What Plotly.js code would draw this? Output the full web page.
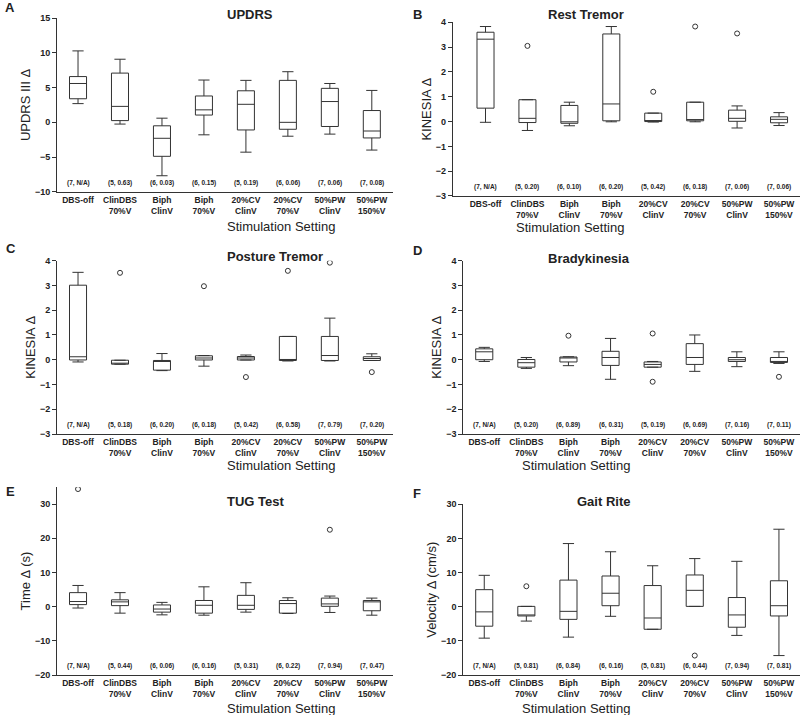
<!DOCTYPE html>
<html>
<head>
<meta charset="utf-8">
<script src="https://cdn.plot.ly/plotly-3.0.1.min.js"></script>
<style>
  body { margin: 0; background: #fff; }
  #chart { width: 800px; height: 715px; }
</style>
</head>
<body>
<div id="chart"></div>
<script>
const categories = ["DBS-off", "ClinDBS 70%V", "Biph ClinV", "Biph 70%V",
    "20%CV ClinV", "20%CV 70%V", "50%PW ClinV", "50%PW 150%V"];
const tickLabels = ["DBS-off", "ClinDBS<br>70%V", "Biph<br>ClinV", "Biph<br>70%V",
    "20%CV<br>ClinV", "20%CV<br>70%V", "50%PW<br>ClinV", "50%PW<br>150%V"];

// each row: lower whisker, q1, median, q3, upper whisker
const updrs = [
    [2.7, 3.4, 5.6, 6.6, 10.3],
    [-0.25, 0.25, 2.3, 7.1, 9.1],
    [-7.7, -4.9, -2.3, -0.5, 0.6],
    [-1.8, 1.05, 1.8, 3.8, 6.1],
    [-4.3, -1.1, 2.6, 4.55, 6.05],
    [-2.0, -1.0, 0, 6.05, 7.3],
    [-1.7, -0.6, 3.0, 4.9, 5.6],
    [-4.0, -2.25, -1.25, 1.7, 4.6]
];
const updrsOut = [];
const updrsNotes = ["(7, N/A)", "(5, 0.63)", "(6, 0.03)", "(6, 0.15)", "(5, 0.19)", "(6, 0.06)", "(7, 0.06)", "(7, 0.08)"];

const rest = [
    [-0.03, 0.54, 3.32, 3.6, 3.83],
    [-0.36, -0.04, 0.13, 0.88, 0.88],
    [-0.17, -0.07, -0.01, 0.65, 0.78],
    [-0.01, 0.03, 0.71, 3.53, 3.83],
    [-0.02, 0, 0.03, 0.34, 0.34],
    [-0.01, 0.03, 0.08, 0.78, 0.78],
    [-0.26, 0.01, 0.13, 0.46, 0.63],
    [-0.16, -0.05, 0.09, 0.19, 0.36]
];
const restOut = [["ClinDBS 70%V", 3.05], ["20%CV ClinV", 1.2], ["20%CV 70%V", 3.83], ["50%PW ClinV", 3.55]];
const restNotes = ["(7, N/A)", "(5, 0.20)", "(6, 0.10)", "(6, 0.20)", "(5, 0.42)", "(6, 0.18)", "(7, 0.06)", "(7, 0.06)"];

const posture = [
    [-0.09, -0.01, 0.12, 3.01, 3.53],
    [-0.18, -0.18, -0.17, -0.02, -0.02],
    [-0.44, -0.42, -0.07, -0.03, 0.25],
    [-0.26, -0.01, 0.07, 0.16, 0.17],
    [-0.01, -0.01, 0.07, 0.13, 0.19],
    [-0.05, -0.03, -0.03, 0.94, 0.94],
    [-0.05, -0.03, 0.17, 0.94, 1.68],
    [-0.03, -0.03, 0.05, 0.12, 0.24]
];
const postureOut = [["ClinDBS 70%V", 3.51], ["Biph 70%V", 2.97], ["20%CV ClinV", -0.7],
    ["20%CV 70%V", 3.59], ["50%PW ClinV", 3.92], ["50%PW 150%V", -0.5]];
const postureNotes = ["(7, N/A)", "(5, 0.18)", "(6, 0.20)", "(6, 0.18)", "(5, 0.42)", "(6, 0.58)", "(7, 0.79)", "(7, 0.20)"];

const brady = [
    [-0.07, 0, 0.32, 0.44, 0.5],
    [-0.35, -0.3, -0.12, 0.01, 0.09],
    [-0.24, -0.09, 0.1, 0.11, 0.12],
    [-0.79, -0.23, 0.09, 0.34, 0.86],
    [-0.3, -0.3, -0.19, -0.09, -0.07],
    [-0.47, -0.19, 0.09, 0.65, 1.0],
    [-0.28, -0.07, 0, 0.09, 0.32],
    [-0.15, -0.11, -0.09, 0.09, 0.32]
];
const bradyOut = [["Biph ClinV", 0.97], ["20%CV ClinV", 1.06], ["20%CV ClinV", -0.89], ["50%PW 150%V", -0.69]];
const bradyNotes = ["(7, N/A)", "(5, 0.20)", "(6, 0.89)", "(6, 0.31)", "(5, 0.19)", "(6, 0.69)", "(7, 0.16)", "(7, 0.11)"];

const tug = [
    [-0.4, 0.6, 1.5, 4.1, 6.2],
    [-1.9, 0.3, 1.4, 2.0, 4.1],
    [-2.4, -1.6, -0.7, 0.5, 1.25],
    [-2.5, -1.9, 0.4, 1.8, 5.8],
    [-1.6, -0.8, 0.4, 3.3, 7.0],
    [-2.0, -1.9, 0.9, 1.8, 2.6],
    [-1.7, 0.1, 0.8, 2.5, 3.1],
    [-2.5, -1.2, 1.4, 1.8, 2.5]
];
const tugOut = [["DBS-off", 34.4], ["50%PW ClinV", 22.5]];
const tugNotes = ["(7, N/A)", "(5, 0.44)", "(6, 0.06)", "(6, 0.16)", "(5, 0.31)", "(6, 0.22)", "(7, 0.94)", "(7, 0.47)"];

const gait = [
    [-9.2, -5.7, -1.5, 5.0, 9.2],
    [-4.2, -2.7, -2.7, 0.1, 0.1],
    [-8.9, -3.7, -1.35, 7.8, 18.5],
    [-2.8, 0.3, 3.95, 9.0, 16.1],
    [-6.6, -6.6, -3.3, 6.2, 12.0],
    [0.1, 0.1, 4.8, 9.3, 14.1],
    [-8.4, -6.0, -2.4, 2.7, 13.3],
    [-14.3, -2.7, 0.3, 7.6, 22.7]
];
const gaitOut = [["ClinDBS 70%V", 6.0], ["20%CV 70%V", -14.3]];
const gaitNotes = ["(7, N/A)", "(5, 0.81)", "(6, 0.84)", "(6, 0.16)", "(5, 0.81)", "(6, 0.44)", "(7, 0.94)", "(7, 0.81)"];

const FONT = "Arial, 'Liberation Sans', sans-serif";
const INK = "#222";
const LINE = "#333";

const panels = [
    {letter: "A", title: "UPDRS", ytitle: "UPDRS III Δ", stats: updrs, out: updrsOut, notes: updrsNotes,
     xdom: [0.0713, 0.491], ydom: [0.7319, 0.9744], xrange: [-0.5, 7.5], yrange: [-10, 15], ticks: [-10, -5, 0, 5, 10, 15],
     letterPos: [0.004, 0.990], titleY: 0.980, xtitleY: 0.6839},
    {letter: "B", title: "Rest Tremor", ytitle: "KINESIA Δ", stats: rest, out: restOut, notes: restNotes,
     xdom: [0.566, 1.0], ydom: [0.7259, 0.9688], xrange: [-0.78, 7.5], yrange: [-3, 4], ticks: [-3, -2, -1, 0, 1, 2, 3, 4],
     letterPos: [0.514, 0.980], titleY: 0.980, xtitleY: 0.6825},
    {letter: "C", title: "Posture Tremor", ytitle: "KINESIA Δ", stats: posture, out: postureOut, notes: postureNotes,
     xdom: [0.0713, 0.491], ydom: [0.393, 0.6354], xrange: [-0.5, 7.5], yrange: [-3, 4], ticks: [-3, -2, -1, 0, 1, 2, 3, 4],
     letterPos: [0.005, 0.653], titleY: 0.6406, xtitleY: 0.3483},
    {letter: "D", title: "Bradykinesia", ytitle: "KINESIA Δ", stats: brady, out: bradyOut, notes: bradyNotes,
     xdom: [0.579, 1.0], ydom: [0.393, 0.6354], xrange: [-0.5, 7.5], yrange: [-3, 4], ticks: [-3, -2, -1, 0, 1, 2, 3, 4],
     letterPos: [0.514, 0.650], titleY: 0.639, xtitleY: 0.3483},
    {letter: "E", title: "TUG Test", ytitle: "Time Δ (s)", stats: tug, out: tugOut, notes: tugNotes,
     xdom: [0.0713, 0.491], ydom: [0.0559, 0.3189], xrange: [-0.5, 7.5], yrange: [-20, 35], ticks: [-20, -10, 0, 10, 20, 30],
     letterPos: [0.005, 0.312], titleY: 0.298, xtitleY: 0.0091},
    {letter: "F", title: "Gait Rite", ytitle: "Velocity Δ (cm/s)", stats: gait, out: gaitOut, notes: gaitNotes,
     xdom: [0.579, 1.0], ydom: [0.0559, 0.2947], xrange: [-0.5, 7.5], yrange: [-20, 30], ticks: [-20, -10, 0, 10, 20, 30],
     letterPos: [0.514, 0.310], titleY: 0.298, xtitleY: 0.0091}
];

const traces = [];
const annotations = [];
const layout = {
    width: 800,
    height: 715,
    margin: {l: 0, r: 0, t: 0, b: 0},
    paper_bgcolor: "#fff",
    plot_bgcolor: "#fff",
    showlegend: false,
    boxgap: 0.42,
    font: {family: FONT, color: INK},
    annotations: annotations
};

panels.forEach((p, i) => {
    const n = i === 0 ? "" : String(i + 1);
    const xa = "x" + n, ya = "y" + n;

    traces.push({
        type: "box",
        x: categories,
        lowerfence: p.stats.map(r => r[0]),
        q1: p.stats.map(r => r[1]),
        median: p.stats.map(r => r[2]),
        q3: p.stats.map(r => r[3]),
        upperfence: p.stats.map(r => r[4]),
        fillcolor: "#fff",
        line: {color: LINE, width: 1},
        whiskerwidth: 0,
        xaxis: xa, yaxis: ya,
        hoverinfo: "skip"
    });

    // whisker caps
    traces.push({
        type: "scatter",
        mode: "markers",
        x: categories.concat(categories),
        y: p.stats.map(r => r[0]).concat(p.stats.map(r => r[4])),
        marker: {symbol: "line-ew", size: 8, color: LINE, line: {color: LINE, width: 1}},
        xaxis: xa, yaxis: ya,
        hoverinfo: "skip"
    });

    // outliers
    traces.push({
        type: "scatter",
        mode: "markers",
        x: p.out.map(o => o[0]),
        y: p.out.map(o => o[1]),
        marker: {symbol: "circle-open", size: 5, color: LINE, line: {width: 1}},
        xaxis: xa, yaxis: ya,
        hoverinfo: "skip"
    });

    layout["xaxis" + n] = {
        domain: p.xdom,
        anchor: ya,
        type: "category",
        range: p.xrange,
        tickmode: "array",
        tickvals: categories,
        ticktext: tickLabels,
        ticks: "",
        showline: true,
        linecolor: LINE,
        linewidth: 1,
        showgrid: false,
        zeroline: false,
        tickfont: {size: 8.5, weight: "bold", color: INK}
    };
    layout["yaxis" + n] = {
        domain: p.ydom,
        anchor: xa,
        range: p.yrange,
        tickmode: "array",
        tickvals: p.ticks,
        ticks: "outside",
        ticklen: 4,
        tickcolor: LINE,
        showline: true,
        linecolor: LINE,
        linewidth: 1,
        showgrid: false,
        zeroline: false,
        tickfont: {size: 9, weight: "bold", color: INK},
        title: {text: p.ytitle, font: {size: 13, color: INK}, standoff: 1}
    };

    p.notes.forEach((t, k) => {
        annotations.push({
            text: t, x: categories[k], y: 0.05,
            xref: xa, yref: ya + " domain",
            showarrow: false, yanchor: "middle",
            font: {size: 6.5, weight: "bold", color: INK}
        });
    });

    // x-axis title, placed below the two-line tick labels
    annotations.push({
        text: "Stimulation Setting", x: (p.xdom[0] + p.xdom[1]) / 2, y: p.xtitleY,
        xref: "paper", yref: "paper", showarrow: false, yanchor: "middle",
        font: {size: 13, color: INK}
    });
    annotations.push({
        text: p.title, x: (p.xdom[0] + p.xdom[1]) / 2, y: p.titleY,
        xref: "paper", yref: "paper", showarrow: false, yanchor: "middle",
        font: {size: 13, weight: "bold", color: INK}
    });
    annotations.push({
        text: p.letter, x: p.letterPos[0], y: p.letterPos[1],
        xref: "paper", yref: "paper", showarrow: false, xanchor: "left", yanchor: "middle",
        font: {size: 13, weight: "bold", color: INK}
    });
});

Plotly.newPlot("chart", traces, layout, {displayModeBar: false, staticPlot: true});
</script>
</body>
</html>
